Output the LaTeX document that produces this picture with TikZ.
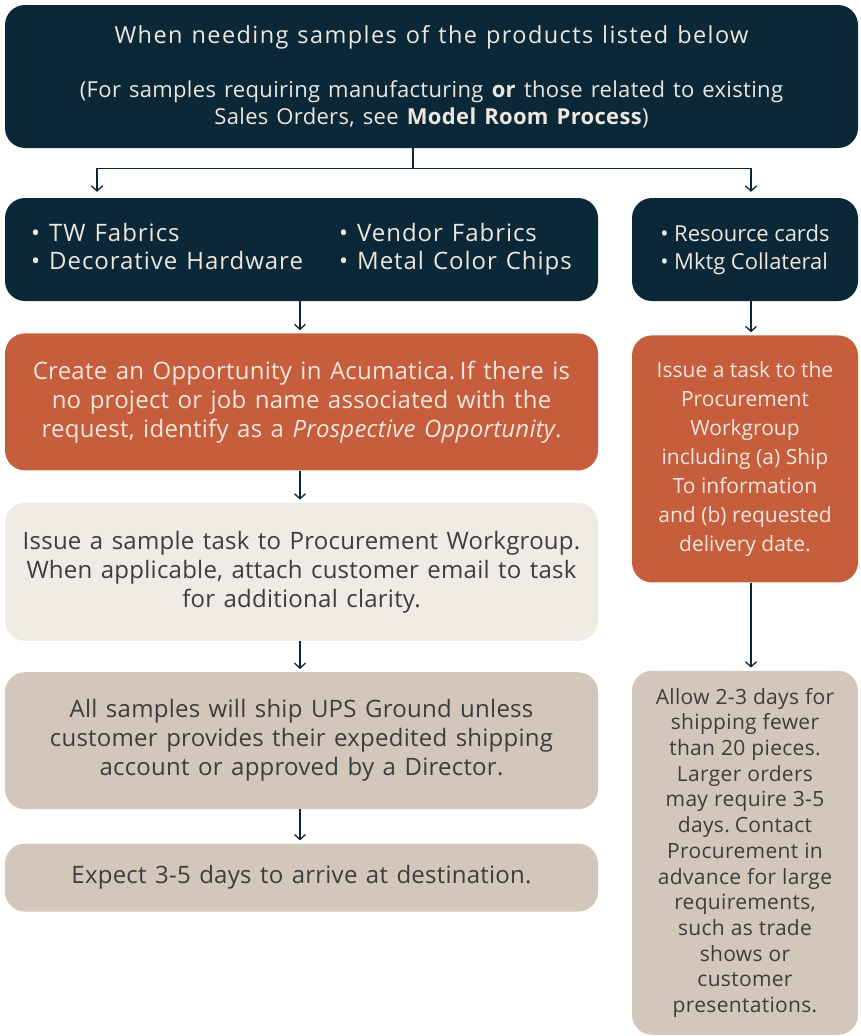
\documentclass[tikz,border=0pt]{standalone}
\usepackage{fontspec}
\setmainfont{Open Sans}
\usetikzlibrary{positioning,arrows.meta}

\definecolor{navy}{HTML}{0B2839}
\definecolor{rust}{HTML}{C65D3C}
\definecolor{shell}{HTML}{F0EBE5}
\definecolor{sand}{HTML}{D3C6BA}
\definecolor{cream}{HTML}{EEE7DD}
\definecolor{ink}{HTML}{3D3D3D}

\tikzset{
  box/.style={rounded corners=20pt, align=center, inner sep=0pt},
  navybox/.style={box, fill=navy, text=cream},
  rustbox/.style={box, fill=rust, text=cream},
  shellbox/.style={box, fill=shell, text=ink},
  sandbox/.style={box, fill=sand, text=ink},
  wide/.style={text width=593pt},
  narrow/.style={text width=226pt},
  flow/.style={draw=navy, line width=1.3pt, -{Straight Barb[length=5pt,width=11pt,line width=1.3pt]}},
}
\newcommand{\widetxt}{\fontsize{24}{29}\selectfont\addfontfeature{LetterSpace=1}\spaceskip=8.5pt}

\begin{document}
\begin{tikzpicture}[x=1pt, y=1pt]
    \useasboundingbox (0,0) rectangle (860,-1036);

    % header
    \node(top) [navybox, text width=853pt, minimum height=143pt] at (431.5,-76.5)
        {\fontsize{23.5}{27}\selectfont\addfontfeature{LetterSpace=6}\spaceskip=9pt When needing samples of the products listed below\\[27pt]
         \fontsize{22}{27}\selectfont\addfontfeature{LetterSpace=1.5}\spaceskip=8pt (For samples requiring manufacturing \textbf{or} those related to existing\\
          Sales Orders, see \textbf{Model Room Process})\par};

    % left column
    \node(prods) [navybox, wide, minimum height=103pt] at (301.5,-249.5)
        {\fontsize{24}{28}\selectfont\addfontfeature{LetterSpace=4}\spaceskip=9pt%
         \begin{tabular}{@{}p{308pt}@{}l@{}}
           • TW Fabrics & • Vendor Fabrics\\
           • Decorative Hardware & • Metal Color Chips
         \end{tabular}\par};

    \node(opp) [rustbox, wide, minimum height=137pt, below=32pt of prods]
        {\widetxt Create an Opportunity in Acumatica. If there is\\
         no project or job name associated with the\\
         request, identify as a \textit{Prospective Opportunity}.\par};

    \node(task) [shellbox, wide, minimum height=138pt, below=32pt of opp]
        {\widetxt Issue a sample task to Procurement Workgroup.\\
         When applicable, attach customer email to task\\
         for additional clarity.\par};

    \node(ups) [sandbox, wide, minimum height=137pt, below=31pt of task]
        {\widetxt All samples will ship UPS Ground unless\\
         customer provides their expedited shipping\\
         account or approved by a Director.\par};

    \node(expect) [sandbox, wide, minimum height=68pt, below=34pt of ups]
        {\widetxt Expect 3-5 days to arrive at destination.\par};

    % right column
    \node(cards) [navybox, narrow, minimum height=103pt] at (745,-249.5)
        {\fontsize{22}{28}\selectfont\spaceskip=5.5pt%
         \begin{tabular}{@{}l@{}}
           • Resource cards\\
           • Mktg Collateral
         \end{tabular}\par};

    \node(proc) [rustbox, narrow, minimum height=247pt, below=34pt of cards]
        {\fontsize{21}{29}\selectfont\spaceskip=5.5pt Issue a task to the\\
         Procurement\\
         Workgroup\\
         including (a) Ship\\
         To information\\
         and (b) requested\\
         delivery date.\par};

    \node(allow) [sandbox, narrow, minimum height=364pt, below=88pt of proc]
        {\fontsize{21}{25.7}\selectfont\addfontfeature{LetterSpace=1.5}\spaceskip=6pt Allow 2-3 days for\\
         shipping fewer\\
         than 20 pieces.\\
         Larger orders\\
         may require 3-5\\
         days. Contact\\
         Procurement in\\
         advance for large\\
         requirements,\\
         such as trade\\
         shows or\\
         customer\\
         presentations.\par};

    %%%%% connectors %%%%%
    \coordinate(split) at ([xshift=-18.5pt, yshift=-20pt]top.south);
    \draw[draw=navy, line width=1.3pt] ([xshift=-18.5pt]top.south) -- (split);
    \draw[flow] (split) -| ([xshift=-204.5pt, yshift=6pt]prods.north);
    \draw[flow] (split) -| ([xshift=6pt, yshift=6pt]cards.north);

    \draw[flow] ([xshift=-1.5pt]prods.south) -- ([xshift=-1.5pt, yshift=3pt]opp.north);
    \draw[flow] ([xshift=-1.5pt]opp.south) -- ([xshift=-1.5pt, yshift=3pt]task.north);
    \draw[flow] ([xshift=-1.5pt]task.south) -- ([xshift=-1.5pt, yshift=3pt]ups.north);
    \draw[flow] ([xshift=-1.5pt]ups.south) -- ([xshift=-1.5pt, yshift=3pt]expect.north);

    \draw[flow] ([xshift=6pt]cards.south) -- ([xshift=6pt, yshift=3pt]proc.north);
    \draw[flow] ([xshift=6pt]proc.south) -- ([xshift=6pt, yshift=3pt]allow.north);

  \end{tikzpicture}
\end{document}
